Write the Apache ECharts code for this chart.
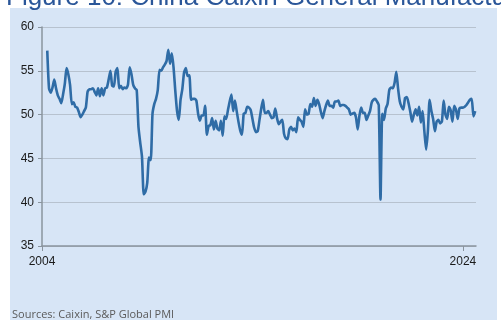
<!DOCTYPE html>
<html>
<head>
<meta charset="utf-8">
<script src="https://cdn.jsdelivr.net/npm/echarts@6/dist/echarts.min.js"></script>
<style>
  html, body { margin: 0; padding: 0; background: #fff; }
  #main { width: 501px; height: 320px; }
</style>
</head>
<body>
<div id="main"></div>
<script>
// monthly PMI, starting April 2004
var startYear = 2004;
var startMonth = 4;
var pmi = [
  57.3, 53.0, 52.5, 53.1, 54.0, 53.0, 52.2, 51.8, 51.3,
  52.3, 53.5, 55.3, 54.6, 53.4, 51.2, 51.4, 50.9, 50.8, 50.3, 49.7, 50.0,
  50.4, 50.8, 52.6, 52.9, 52.9, 53.0, 52.6, 52.2, 53.0, 52.1, 53.0, 52.2,
  53.0, 53.1, 54.0, 55.0, 53.3, 53.2, 54.9, 55.3, 53.0, 53.3, 52.9, 53.1,
  53.0, 53.4, 55.4, 54.6, 53.4, 53.0, 52.8, 48.6, 46.8, 45.2, 40.9, 41.2,
  42.2, 45.1, 44.8, 50.1, 51.2, 51.8, 52.8, 55.1, 55.0, 55.4, 55.7, 56.1,
  57.4, 55.8, 57.0, 55.4, 52.7, 50.4, 49.4, 51.7, 52.9, 54.8, 55.3, 54.4,
  54.5, 51.7, 51.8, 51.8, 51.6, 50.1, 49.3, 49.9, 49.9, 51.0, 47.7, 48.7,
  48.8, 49.6, 48.3, 49.3, 48.4, 48.2, 49.3, 47.6, 49.8, 49.5, 50.5, 51.5,
  52.3, 50.4, 51.6, 50.4, 49.2, 48.2, 47.7, 50.1, 50.2, 50.9, 50.8, 50.5,
  49.5, 48.5, 48.0, 48.1, 49.4, 50.7, 51.7, 50.2, 50.2, 50.4, 50.0, 49.6,
  49.7, 50.7, 49.6, 48.9, 49.2, 49.4, 47.8, 47.3, 47.2, 48.3, 48.6, 48.2,
  48.4, 48.0, 49.7, 49.4, 49.2, 48.6, 50.6, 50.0, 50.1, 51.2, 50.9, 51.9,
  51.0, 51.7, 51.2, 50.3, 49.6, 50.4, 51.1, 51.6, 51.0, 51.0, 50.8, 51.5,
  51.5, 51.6, 51.0, 51.1, 51.1, 51.0, 50.8, 50.6, 50.0, 50.1, 50.2, 49.7,
  48.3, 49.9, 50.8, 50.2, 50.2, 49.4, 49.9, 50.4, 51.4, 51.7, 51.8, 51.5,
  51.1, 40.3, 50.1, 49.4, 50.7, 51.2, 52.8, 53.1, 53.0, 53.6, 54.9, 53.0,
  51.5, 50.9, 50.6, 51.9, 52.0, 51.3, 50.3, 49.2, 50.0, 50.6, 49.9, 50.9,
  49.1, 50.4, 48.1, 46.0, 48.1, 51.7, 50.4, 49.5, 48.1, 49.2, 49.4, 49.0,
  49.2, 51.6, 50.0, 49.5, 50.9, 50.5, 49.2, 51.0, 50.6, 49.5, 50.7, 50.8,
  50.8, 50.9, 51.1, 51.4, 51.7, 51.8, 49.8, 50.4
];
var xLabels = [2004, 2024];
var yTicks = [35, 40, 45, 50, 55, 60];

var chart = echarts.init(document.getElementById('main'));

var seriesData = pmi.map(function (v, i) {
  return [startYear + (startMonth - 1 + i) / 12, v];
});

var option = {
  backgroundColor: '#fff',
  animation: false,
  title: {
    text: 'Figure 10: China Caixin General Manufacturing PMI',
    left: 1,
    top: -20,
    textStyle: {
      color: '#2a5699',
      fontSize: 26,
      fontWeight: 'normal',
      fontFamily: 'Liberation Sans'
    }
  },
  graphic: [
    {
      type: 'rect',
      z: -10,
      silent: true,
      shape: { x: 10, y: 8, width: 487, height: 320 },
      style: { fill: '#d7e5f6' }
    },
    {
      type: 'text',
      left: 12,
      top: 309,
      z: 10,
      style: {
        text: 'Sources: Caixin, S&P Global PMI',
        fill: '#5a5a5a',
        font: '11px "Open Sans"'
      }
    }
  ],
  grid: {
    left: 42,
    right: 25,
    top: 27,
    bottom: 74
  },
  xAxis: {
    type: 'value',
    min: 2004,
    max: 2024.62,
    splitLine: { show: false },
    axisLine: { lineStyle: { color: '#8a949e', width: 1.5 } },
    axisTick: {
      customValues: xLabels,
      length: 5,
      lineStyle: { color: '#8a949e' }
    },
    axisLabel: {
      customValues: xLabels,
      color: '#1a1a1a',
      fontSize: 12,
      fontFamily: 'Liberation Sans',
      margin: 10,
      formatter: function (v) { return String(Math.round(v)); }
    }
  },
  yAxis: {
    type: 'value',
    min: yTicks[0],
    max: yTicks[yTicks.length - 1],
    interval: 5,
    axisLine: { show: true, lineStyle: { color: '#8a949e', width: 1.5 } },
    axisTick: { show: true, length: 4, lineStyle: { color: '#8a949e' } },
    splitLine: { lineStyle: { color: '#b7c2cf', width: 1 } },
    axisLabel: {
      color: '#1a1a1a',
      fontSize: 12,
      fontFamily: 'Liberation Sans',
      margin: 8
    }
  },
  series: [
    {
      type: 'line',
      data: seriesData,
      showSymbol: false,
      smooth: 0.2,
      lineStyle: { color: '#2f6ca6', width: 2.6 }
    }
  ]
};

chart.setOption(option);
</script>
</body>
</html>
